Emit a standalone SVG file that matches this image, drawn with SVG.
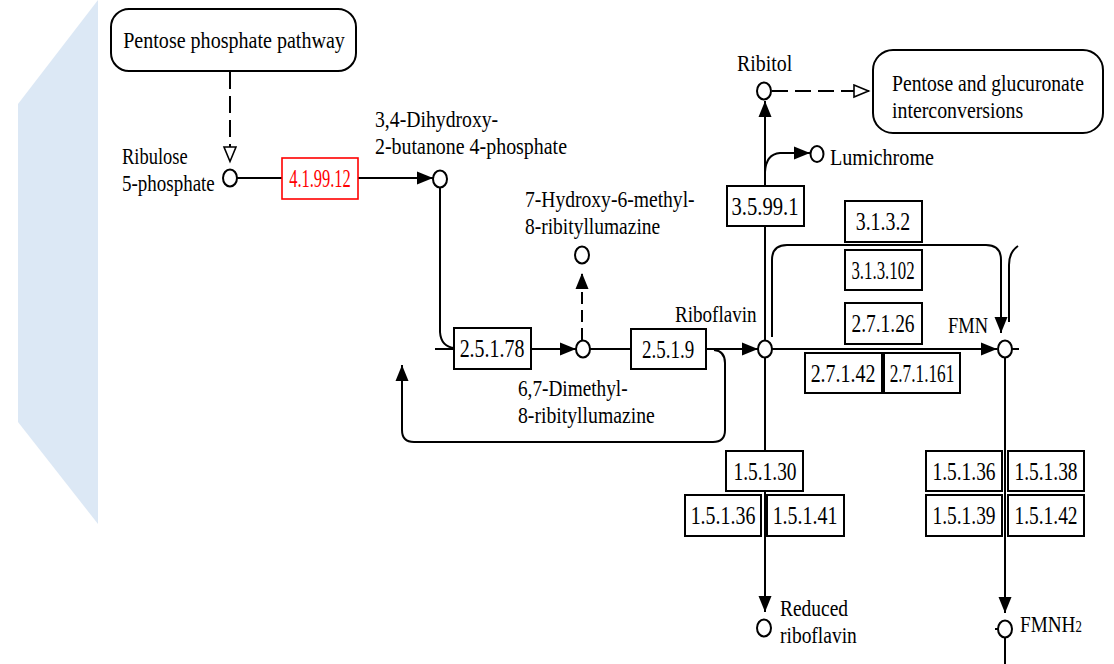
<svg xmlns="http://www.w3.org/2000/svg" width="1114" height="664" viewBox="0 0 1114 664">
<style>
text{font-family:"Liberation Serif","Times New Roman",serif;fill:#000}
.lb{font-size:24px}
.bx{font-size:26px;text-anchor:middle}
.mid{text-anchor:middle}
.box{fill:#fff;stroke:#000;stroke-width:2}
.red{fill:#fff;stroke:#f00;stroke-width:1.6}
.map{fill:#fff;stroke:#000;stroke-width:2}
.cpd{fill:#fff;stroke:#000;stroke-width:2}
.ln{fill:none;stroke:#000;stroke-width:2}
.dash{fill:none;stroke:#000;stroke-width:2;stroke-dasharray:17,7}
</style>
<defs>
<marker id="arr" markerUnits="userSpaceOnUse" markerWidth="17" markerHeight="14" refX="16" refY="7" orient="auto"><path d="M0,0.5 L16,7 L0,13.5 z" fill="#000"/></marker>
<marker id="harr" markerUnits="userSpaceOnUse" markerWidth="18" markerHeight="16" refX="16" refY="7" orient="auto"><path d="M1,1 L15.5,7 L1,13 z" fill="#fff" stroke="#000" stroke-width="1.6"/></marker>
</defs>
<polygon points="98,0 98,524 18,422 18,104" fill="#dce8f5"/>
<g id="connectors">
<path class="dash" d="M230,72 V162" marker-end="url(#harr)"/>
<path class="ln" d="M237,178 H282"/>
<path class="ln" d="M358,178 H433" marker-end="url(#arr)"/>
<path class="ln" d="M440,187 V332 Q441,347 455,348"/>
<path class="ln" d="M435,349 H455"/>
<path class="ln" d="M531,349 H576" marker-end="url(#arr)"/>
<path class="ln" d="M582,340 V273" stroke-dasharray="12,6" marker-end="url(#arr)"/>
<path class="ln" d="M590,349 H631"/>
<path class="ln" d="M706,349 H758" marker-end="url(#arr)"/>
<path class="ln" d="M714,350 Q725,351 725,363 V430 Q725,442 713,442 H414 Q402,442 402,430 V365" marker-end="url(#arr)"/>
<path class="ln" d="M765,340 V101" marker-end="url(#arr)"/>
<path class="ln" d="M765,172 Q766,154 780,153 H810" marker-end="url(#arr)"/>
<path class="ln" d="M772,91 H869" stroke-dasharray="16,7" marker-end="url(#harr)"/>
<path class="ln" d="M772,349 H997" marker-end="url(#arr)"/>
<path class="ln" d="M772,337 V260 Q772,245 787,245 H986 Q1001,245 1001,260 V333" marker-end="url(#arr)"/>
<path class="ln" d="M1018,246 Q1009,252 1009,265 V322"/>
<path class="ln" d="M1012,349 H1019"/>
<path class="ln" d="M765,358 V612" marker-end="url(#arr)"/>
<path class="ln" d="M1005,358 V613" marker-end="url(#arr)"/>
<path class="ln" d="M1005,638 V664"/>
<path class="ln" d="M995,629 H998"/>
</g>
<g id="map-ppp"><rect class="map" x="111" y="9" width="245" height="62" rx="18"/><text class="lb mid" transform="translate(234,48) scale(0.8,1)" textLength="277" lengthAdjust="spacingAndGlyphs">Pentose phosphate pathway</text></g>
<g id="map-pgi"><rect class="map" x="873" y="50" width="230" height="83" rx="20"/><text class="lb" transform="translate(892,91) scale(0.8,1)" textLength="240" lengthAdjust="spacingAndGlyphs">Pentose and glucuronate</text><text class="lb" transform="translate(892,118) scale(0.8,1)" textLength="164" lengthAdjust="spacingAndGlyphs">interconversions</text></g>
<g id="cpd-ribulose5p"><ellipse class="cpd" cx="230" cy="178" rx="7" ry="8.5"/><text class="lb" transform="translate(122,164) scale(0.8,1)" textLength="82" lengthAdjust="spacingAndGlyphs">Ribulose</text><text class="lb" transform="translate(122,191) scale(0.8,1)" textLength="116" lengthAdjust="spacingAndGlyphs">5-phosphate</text></g>
<g id="cpd-dhbp"><ellipse class="cpd" cx="440" cy="179" rx="7" ry="8.5"/><text class="lb" transform="translate(375,127) scale(0.8,1)" textLength="154" lengthAdjust="spacingAndGlyphs">3,4-Dihydroxy-</text><text class="lb" transform="translate(375,154) scale(0.8,1)" textLength="240" lengthAdjust="spacingAndGlyphs">2-butanone 4-phosphate</text></g>
<g id="cpd-hmrl"><ellipse class="cpd" cx="582" cy="255" rx="7" ry="8.5"/><text class="lb" transform="translate(525,207) scale(0.8,1)" textLength="212" lengthAdjust="spacingAndGlyphs">7-Hydroxy-6-methyl-</text><text class="lb" transform="translate(525,234) scale(0.8,1)" textLength="169" lengthAdjust="spacingAndGlyphs">8-ribityllumazine</text></g>
<g id="cpd-dmrl"><ellipse class="cpd" cx="583" cy="349" rx="7" ry="8.5"/><text class="lb" transform="translate(518,396) scale(0.8,1)" textLength="137" lengthAdjust="spacingAndGlyphs">6,7-Dimethyl-</text><text class="lb" transform="translate(518,423) scale(0.8,1)" textLength="171" lengthAdjust="spacingAndGlyphs">8-ribityllumazine</text></g>
<g id="cpd-riboflavin"><ellipse class="cpd" cx="765" cy="349" rx="7" ry="8.5"/><text class="lb" transform="translate(675,322) scale(0.8,1)" textLength="102" lengthAdjust="spacingAndGlyphs">Riboflavin</text></g>
<g id="cpd-ribitol"><ellipse class="cpd" cx="764" cy="91" rx="7" ry="8.5"/><text class="lb" transform="translate(737,71) scale(0.8,1)" textLength="69" lengthAdjust="spacingAndGlyphs">Ribitol</text></g>
<g id="cpd-lumichrome"><ellipse class="cpd" cx="817" cy="154" rx="6.5" ry="8"/><text class="lb" transform="translate(830,165) scale(0.8,1)" textLength="130" lengthAdjust="spacingAndGlyphs">Lumichrome</text></g>
<g id="cpd-fmn"><ellipse class="cpd" cx="1005" cy="349" rx="7" ry="8.5"/><text class="lb" transform="translate(948,333) scale(0.8,1)" textLength="50" lengthAdjust="spacingAndGlyphs">FMN</text></g>
<g id="cpd-reduced-riboflavin"><ellipse class="cpd" cx="764" cy="628" rx="7" ry="8.5"/><text class="lb" transform="translate(780,616) scale(0.8,1)" textLength="85" lengthAdjust="spacingAndGlyphs">Reduced</text><text class="lb" transform="translate(780,643) scale(0.8,1)" textLength="96" lengthAdjust="spacingAndGlyphs">riboflavin</text></g>
<g id="cpd-fmnh2"><ellipse class="cpd" cx="1005" cy="629" rx="7" ry="8.5"/><text class="lb" transform="translate(1020,632) scale(0.8,1)">FMNH<tspan font-size="16">2</tspan></text></g>
<g id="ec-4.1.99.12"><rect class="red" x="282" y="158" width="76" height="41"/><text class="bx" transform="translate(320,187) scale(0.78,1)" style="fill:#f00" textLength="79" lengthAdjust="spacingAndGlyphs">4.1.99.12</text></g>
<g id="ec-2.5.1.78"><rect class="box" x="454" y="328" width="77" height="41"/><text class="bx" transform="translate(492,357) scale(0.78,1)" textLength="83" lengthAdjust="spacingAndGlyphs">2.5.1.78</text></g>
<g id="ec-2.5.1.9"><rect class="box" x="631" y="329" width="75" height="40"/><text class="bx" transform="translate(668,358) scale(0.78,1)" textLength="67" lengthAdjust="spacingAndGlyphs">2.5.1.9</text></g>
<g id="ec-3.5.99.1"><rect class="box" x="727" y="186" width="77" height="40"/><text class="bx" transform="translate(765,215) scale(0.78,1)" textLength="86" lengthAdjust="spacingAndGlyphs">3.5.99.1</text></g>
<g id="ec-3.1.3.2"><rect class="box" x="845" y="201" width="77" height="41"/><text class="bx" transform="translate(883,230) scale(0.78,1)" textLength="70" lengthAdjust="spacingAndGlyphs">3.1.3.2</text></g>
<g id="ec-3.1.3.102"><rect class="box" x="845" y="250" width="77" height="40"/><text class="bx" transform="translate(883,279) scale(0.78,1)" textLength="81" lengthAdjust="spacingAndGlyphs">3.1.3.102</text></g>
<g id="ec-2.7.1.26"><rect class="box" x="845" y="303" width="77" height="41"/><text class="bx" transform="translate(883,332) scale(0.78,1)" textLength="81" lengthAdjust="spacingAndGlyphs">2.7.1.26</text></g>
<g id="ec-2.7.1.42"><rect class="box" x="805" y="353" width="77" height="40"/><text class="bx" transform="translate(843,382) scale(0.78,1)" textLength="83" lengthAdjust="spacingAndGlyphs">2.7.1.42</text></g>
<g id="ec-2.7.1.161"><rect class="box" x="884" y="353" width="76" height="40"/><text class="bx" transform="translate(922,382) scale(0.78,1)" textLength="83" lengthAdjust="spacingAndGlyphs">2.7.1.161</text></g>
<g id="ec-1.5.1.30"><rect class="box" x="726" y="451" width="77" height="40"/><text class="bx" transform="translate(765,480) scale(0.78,1)" textLength="81" lengthAdjust="spacingAndGlyphs">1.5.1.30</text></g>
<g id="ec-1.5.1.36-a"><rect class="box" x="685" y="495" width="76" height="41"/><text class="bx" transform="translate(723,524) scale(0.78,1)" textLength="83" lengthAdjust="spacingAndGlyphs">1.5.1.36</text></g>
<g id="ec-1.5.1.41"><rect class="box" x="767" y="495" width="77" height="41"/><text class="bx" transform="translate(805,524) scale(0.78,1)" textLength="83" lengthAdjust="spacingAndGlyphs">1.5.1.41</text></g>
<g id="ec-1.5.1.36-b"><rect class="box" x="926" y="451" width="76" height="40"/><text class="bx" transform="translate(964,480) scale(0.78,1)" textLength="81" lengthAdjust="spacingAndGlyphs">1.5.1.36</text></g>
<g id="ec-1.5.1.38"><rect class="box" x="1008" y="451" width="76" height="40"/><text class="bx" transform="translate(1046,480) scale(0.78,1)" textLength="81" lengthAdjust="spacingAndGlyphs">1.5.1.38</text></g>
<g id="ec-1.5.1.39"><rect class="box" x="926" y="495" width="76" height="41"/><text class="bx" transform="translate(964,524) scale(0.78,1)" textLength="81" lengthAdjust="spacingAndGlyphs">1.5.1.39</text></g>
<g id="ec-1.5.1.42"><rect class="box" x="1008" y="495" width="76" height="41"/><text class="bx" transform="translate(1046,524) scale(0.78,1)" textLength="81" lengthAdjust="spacingAndGlyphs">1.5.1.42</text></g>
</svg>
